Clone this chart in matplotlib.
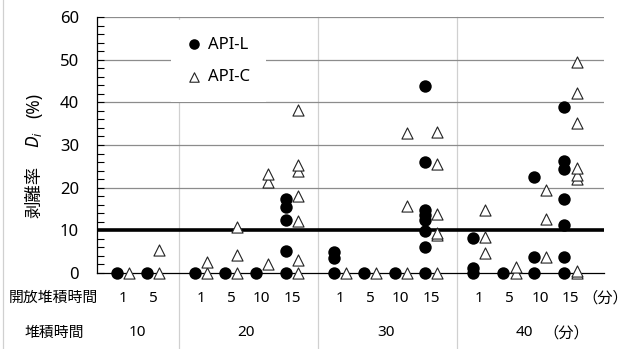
import matplotlib
matplotlib.use("Agg")
import matplotlib.pyplot as plt
import numpy as np
from matplotlib.lines import Line2D
from matplotlib.ticker import MultipleLocator

plt.rcParams.update({
    "figure.facecolor": "white",
    "font.family": ["Noto Sans", "Noto Sans CJK JP", "DejaVu Sans"],
    "font.size": 11,
    "mathtext.fontset": "custom",
    "mathtext.it": "Noto Sans:italic",
    "mathtext.rm": "Noto Sans",
    "axes.unicode_minus": False,
})
CJK = ["Noto Sans CJK JP", "DejaVu Sans"]

# ---- data --------------------------------------------------------------
DEPOSIT = [10, 20, 30, 40]                        # 堆積時間 (min)
OPEN_TIMES = [[1, 5], [1, 5, 10, 15], [1, 5, 10, 15], [1, 5, 10, 15]]

# D_i (%) per (deposit, open time), in the order of OPEN_TIMES
API_L = [
    [[0], [0]],
    [[0], [0], [0], [0, 5.1, 12.4, 15.5, 17.4]],
    [[0, 3.4, 5.0], [0], [0], [0, 6.2, 9.9, 12.5, 13.5, 14.7, 26.1, 43.8]],
    [[0, 1.1, 8.1], [0], [0, 3.8, 22.6], [0, 3.8, 11.2, 17.4, 24.3, 26.3, 38.9]],
]
API_C = [
    [[0], [0, 5.3]],
    [[0, 2.6], [0, 4.3, 10.7], [2.0, 21.4, 23.3], [0, 3.0, 12.1, 18.0, 23.8, 25.4, 38.2]],
    [[0], [0], [0, 15.6, 32.7], [0, 8.8, 9.4, 13.9, 25.5, 33.0]],
    [[4.7, 8.5, 14.7], [0, 1.3], [3.8, 12.6, 19.5], [0, 0.5, 22.1, 23.0, 24.6, 35.2, 42.2, 49.4]],
]
THRESHOLD = 10

# ---- layout (slot units) -----------------------------------------------
FIRST = 0.84
GAP = 1.56
XMAX = 16.62
OFF = 0.2

slot_x, group_mid, separators = [], [], []
x = FIRST
for gi, opens in enumerate(OPEN_TIMES):
    xs = [x + i for i in range(len(opens))]
    slot_x.append(xs)
    group_mid.append(np.mean(xs))
    if gi < len(OPEN_TIMES) - 1:
        separators.append(xs[-1] + 0.85)
    x = xs[-1] + GAP

W, H = 637, 349
fig = plt.figure(figsize=(W / 100, H / 100), dpi=100)
ax = fig.add_axes([97 / W, 1 - 273 / H, (604 - 97) / W, (273 - 17) / H])

# points
lx, ly, cx, cy = [], [], [], []
for gi in range(len(DEPOSIT)):
    for si, xs in enumerate(slot_x[gi]):
        for v in API_L[gi][si]:
            lx.append(xs - OFF); ly.append(v)
        for v in API_C[gi][si]:
            cx.append(xs + OFF); cy.append(v)

hl = ax.scatter(lx, ly, s=80, marker="o", color="black", linewidths=0,
                zorder=5, clip_on=False, label="API-L")
hc = ax.scatter(cx, cy, s=64, marker="^", facecolor="white",
                edgecolor="#222222", linewidths=0.8, zorder=6,
                clip_on=False, label="API-C")

ax.set_xlim(0, XMAX)
ax.set_ylim(0, 60)

# grid / threshold line
for yv in range(20, 61, 10):
    ax.axhline(yv, color="#8c8c8c", lw=0.9, zorder=1)
ax.axhline(THRESHOLD, color="black", lw=2.6, zorder=3)

for s in ["top", "right"]:
    ax.spines[s].set_visible(False)
ax.spines["left"].set_linewidth(0.9)
ax.spines["bottom"].set_linewidth(0.9)

ax.yaxis.set_major_locator(MultipleLocator(10))
ax.yaxis.set_minor_locator(MultipleLocator(2))
ax.tick_params(axis="y", which="both", direction="in", length=5, width=0.8,
               labelsize=12, pad=13)
ax.set_xticks([])

# vertical separators running down through the label rows
trans = ax.get_xaxis_transform()
for sx in separators:
    ax.plot([sx, sx], [-0.32, 1.0], transform=trans, color="#d0d0d0",
            lw=0.9, clip_on=False, zorder=0)
fig.add_artist(Line2D([3 / W, 3 / W], [0, 1], transform=fig.transFigure,
                      color="#d0d0d0", lw=0.9))

# category labels
row1 = -(298 - 273) / 256
row2 = -(333 - 273) / 256
for gi, d in enumerate(DEPOSIT):
    for xs, t in zip(slot_x[gi], OPEN_TIMES[gi]):
        ax.text(xs, row1, str(t), transform=trans, ha="center", va="center",
                fontsize=11)
    ax.text(group_mid[gi], row2, str(d), transform=trans, ha="center",
            va="center", fontsize=11)
ax.text(slot_x[-1][-1] + 1.15, row1, "（分）", transform=trans, ha="center",
        va="center", fontsize=11, family=CJK)
ax.text(group_mid[-1] + 1.35, row2, "（分）", transform=trans, ha="center",
        va="center", fontsize=11, family=CJK)
fig.text(53 / W, 1 - 298 / H, "開放堆積時間", ha="center", va="center",
         fontsize=10.7, family=CJK)
fig.text(54 / W, 1 - 333 / H, "堆積時間", ha="center", va="center",
         fontsize=10.7, family=CJK)

# y label: three rotated pieces so CJK and the italic symbol both render
ylab_x = 34 / W
fig.text(ylab_x, 1 - 192 / H, "剥離率", rotation=90, ha="center",
         va="center", fontsize=12.5, family=CJK)
fig.text(ylab_x, 1 - 140 / H, "$D_i$", rotation=90, ha="center",
         va="center", fontsize=12.5)
fig.text(ylab_x, 1 - 105 / H, "(%)", rotation=90, ha="center",
         va="center", fontsize=12.5)

ax.legend(handles=[hl, hc], loc="upper left",
          bbox_to_anchor=((171 - 97) / 507, (273 - 20) / 256),
          frameon=True, facecolor="white", edgecolor="none", framealpha=1,
          fancybox=False, fontsize=12, markerscale=0.85, handlelength=0.8,
          handletextpad=0.4, borderpad=1.0, labelspacing=1.0,
          borderaxespad=0)

fig.savefig("out.png", dpi=100)
